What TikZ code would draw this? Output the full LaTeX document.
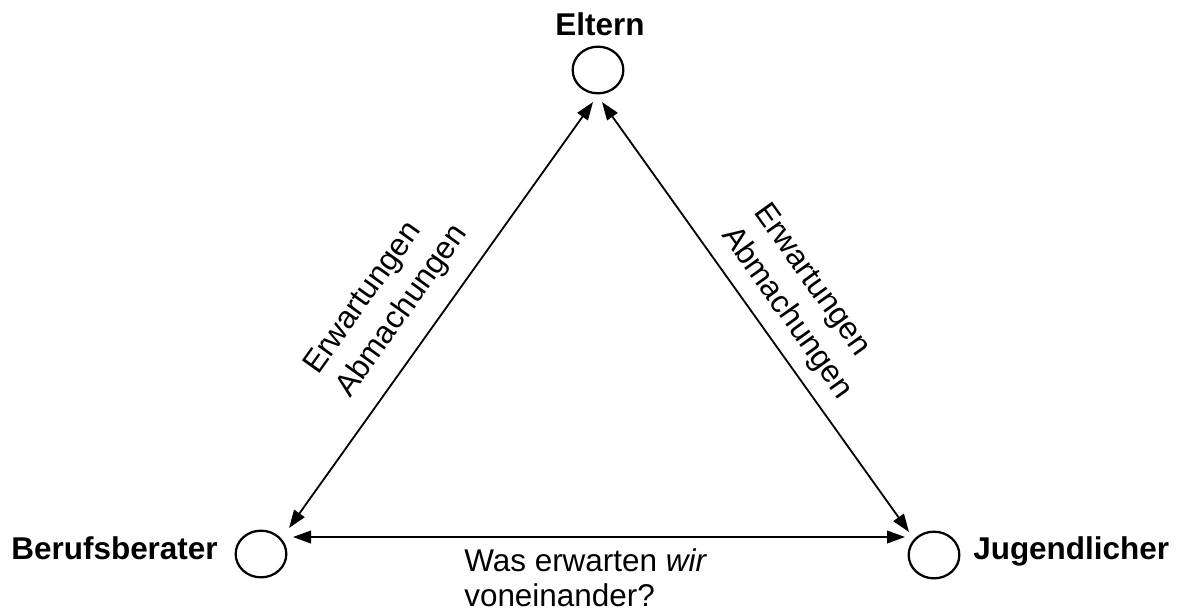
\documentclass[tikz,border=0pt]{standalone}
\usepackage{fontspec}
\setmainfont{Liberation Sans}
\usetikzlibrary{arrows.meta,shapes.geometric}
\begin{document}
\begin{tikzpicture}[x=0.75pt,y=-0.75pt,
  party/.style={draw,ellipse,line width=1.7pt,minimum width=38pt,minimum height=35pt,inner sep=0pt},
  lbl/.style={inner sep=0pt,font=\fontsize{23.6}{28}\selectfont\bfseries},
  txt/.style={inner sep=0pt,font=\fontsize{23.6}{28}\selectfont},
  link/.style={line width=1.35pt,{Triangle[length=13.5pt,width=9.5pt]}-{Triangle[length=13.5pt,width=9.5pt]}}]
\useasboundingbox (0,0) rectangle (1180,612);
% parties
\node[party] (elt) at (598,70) {};
\node[party] (ber) at (261,554) {};
\node[party] (jug) at (934,555) {};
% names
\node[lbl,anchor=base] (eltl) at (600,35) {Eltern};
\node[lbl,anchor=base east] (berl) at (218,559) {Berufsberater};
\node[lbl,anchor=base west] (jugl) at (973,559) {Jugendlicher};
% arrow ends
\coordinate (eA) at (593,102);
\coordinate (eB) at (602,102);
\coordinate (bA) at (289,528);
\coordinate (bB) at (293,537);
\coordinate (jA) at (909,532);
\coordinate (jB) at (905,537);
% connectors
\draw[link] (bA) -- (eA);
\draw[link] (eB) -- (jA);
\draw[link] (bB) -- (jB);
% edge labels
\node[txt,anchor=base west,rotate=54.5] (l1) at (318,376) {Erwartungen};
\node[txt,anchor=base west,rotate=54.5] (l2) at (350,399) {Abmachungen};
\node[txt,anchor=base west,rotate=-54.5] (r1) at (753,212) {Erwartungen};
\node[txt,anchor=base west,rotate=-54.5] (r2) at (721,235) {Abmachungen};
\node[txt,anchor=base west] (b1) at (464,571) {Was erwarten \textit{wir}};
\node[txt,anchor=base west] (b2) at (464,606) {voneinander?};
\end{tikzpicture}
\end{document}
